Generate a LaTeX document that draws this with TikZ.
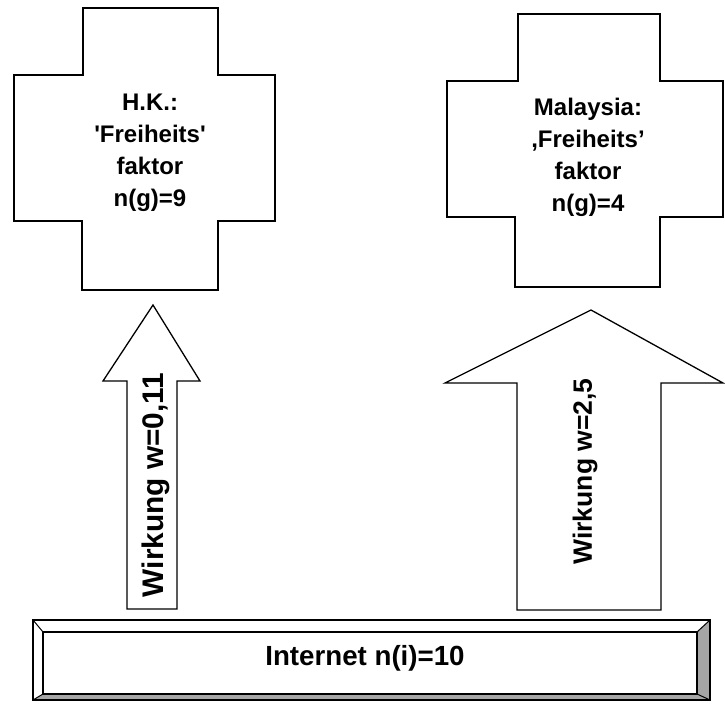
\documentclass[tikz,border=0pt]{standalone}
\usepackage{fontspec}
\setmainfont{Liberation Sans}
\begin{document}
\begin{tikzpicture}[x=1pt,y=-1pt,
  outline/.style={draw=black,line width=1.3pt,line join=miter,fill=white},
  crosstext/.style={font=\bfseries\fontsize{24}{32}\selectfont,align=center,inner sep=0pt},
  arrowtext/.style={font=\bfseries\fontsize{29.8}{32}\selectfont,rotate=90,inner sep=0pt},
  bartext/.style={font=\bfseries\fontsize{27.7}{30}\selectfont,inner sep=0pt,anchor=base},
  shade/.style={fill=black!35}]
\useasboundingbox (0,0) rectangle (725,707);
\fill[white] (0,0) rectangle (725,707);
% left cross
\draw[outline] (83,8) -- (218,8) -- (218,75) -- (275,75) -- (275,221) -- (218,221)
  -- (218,290) -- (82,290) -- (82,221) -- (14,221) -- (14,75) -- (83,75) -- cycle;
\node[crosstext] (hk) at (150,152.5) {H.K.:\\\textquotesingle Freiheits\textquotesingle\\faktor\\n(g)=9};
% right cross
\draw[outline] (518,14) -- (660,14) -- (660,81) -- (723,81) -- (723,217) -- (660,217)
  -- (660,287) -- (515,287) -- (515,217) -- (447,217) -- (447,81) -- (518,81) -- cycle;
\node[crosstext] (my) at (588,157.5) {Malaysia:\\,Freiheits’\\faktor\\n(g)=4};
% left arrow
\draw[outline] (127,609) -- (127,381) -- (103,381) -- (153,305) -- (200,381) -- (177,381) -- (177,609) -- cycle;
\node[arrowtext] (wl) at (156,485) {Wirkung w=0,11};
% right arrow
\draw[outline] (517,610) -- (517,383) -- (445,383) -- (591,310) -- (723,383) -- (661,383) -- (661,610) -- cycle;
\node[arrowtext,font=\bfseries\fontsize{26.5}{30}\selectfont] (wr) at (585,471.5) {Wirkung w=2,5};
% internet bar
\coordinate (o1) at (33,620); \coordinate (o2) at (710,620);
\coordinate (o3) at (710,700); \coordinate (o4) at (33,700);
\coordinate (i1) at (43,632); \coordinate (i2) at (697,632);
\coordinate (i3) at (697,694); \coordinate (i4) at (43,694);
\fill[white] (o1) -- (o2) -- (o3) -- (o4) -- cycle;
\fill[shade] (o4) -- (i4) -- (i3) -- (o3) -- cycle;
\fill[shade] (o2) -- (o3) -- (i3) -- (i2) -- cycle;
\draw[line width=1.3pt,line join=miter] (o1) -- (o2) -- (o3) -- (o4) -- cycle;
\draw[line width=1.3pt,line join=miter] (i1) -- (i2) -- (i3) -- (i4) -- cycle;
\draw[line width=1pt] (o1) -- (i1) (o2) -- (i2) (o3) -- (i3) (o4) -- (i4);
\node[bartext] (net) at (365,665) {Internet n(i)=10};
\end{tikzpicture}
\end{document}
